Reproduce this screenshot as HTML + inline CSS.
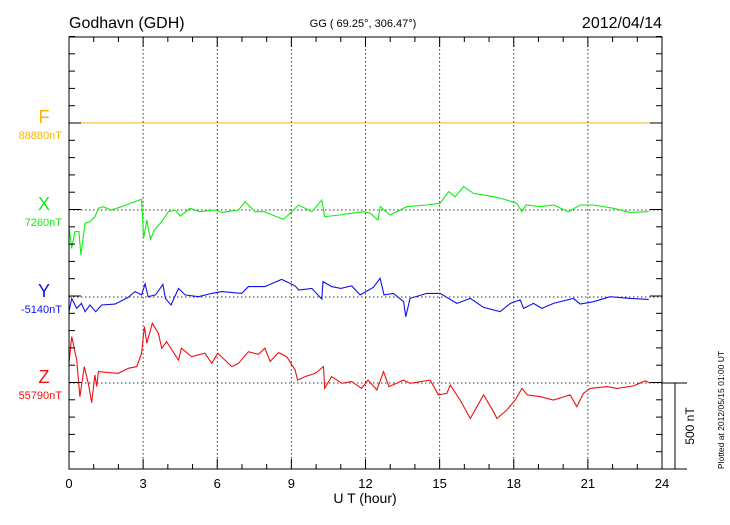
<!DOCTYPE html>
<html><head><meta charset="utf-8">
<style>
body{margin:0;background:#fff;}
svg text{font-family:"Liberation Sans",Arial,sans-serif;}
</style></head>
<body>
<svg id="chart" width="730" height="520" xmlns="http://www.w3.org/2000/svg">
<text x="69" y="28" font-size="16">Godhavn (GDH)</text>
<text x="363" y="27" font-size="11" text-anchor="middle">GG ( 69.25°, 306.47°)</text>
<text x="662" y="28" font-size="16" text-anchor="end">2012/04/14</text>
<text x="365" y="503" font-size="14" text-anchor="middle">U T (hour)</text>
<text transform="translate(694,426) rotate(-90)" font-size="12" text-anchor="middle">500 nT</text>
<text transform="translate(724,410) rotate(-90)" font-size="8.5" text-anchor="middle">Plotted at 2012/05/15 01:00 UT</text>
<g id="grid"></g><g id="series"></g><g id="axes"></g><g id="labels"></g>
</svg>
<script>
const hoursTicks=[0,3,6,9,12,15,18,21,24];
const compNames=['F','X','Y','Z'];
const compBase=['88880nT','7260nT','-5140nT','55790nT'];
const compColors=['#f7b500','#11ee11','#1010ee','#ee1010'];
const fT=[0,23.9];
const fV=[0,0];
const xT=[0,0.11,0.24,0.4,0.48,0.65,0.85,1.05,1.19,1.39,1.7,2.13,2.54,2.94,3.02,3.15,3.3,3.45,3.75,4.02,4.3,4.5,4.9,5.3,5.91,6.2,6.86,7.13,7.53,7.9,8.34,8.68,9.02,9.29,9.83,10.23,10.35,10.96,11.4,11.92,12.19,12.5,12.6,12.99,13.67,14.48,15.02,15.36,15.63,15.97,16.37,17.18,17.72,18.12,18.33,18.5,19.07,19.61,20.21,20.69,21.23,22.04,22.71,23.46];
const xV=[-96,-222,-125,-125,-260,-77,-68,-39,10,19,0,19,42,62,-164,-58,-170,-116,-68,-10,0,-35,10,-10,0,-14,0,48,-10,-10,-35,-54,-10,29,-10,58,-39,-29,-19,-10,-19,-58,19,-29,19,29,39,106,77,135,96,77,58,39,-10,29,19,29,-10,29,29,10,-14,-10];
const yT=[0,0.11,0.31,0.5,0.65,0.85,1.08,1.32,1.86,2.4,2.67,2.94,3.08,3.2,3.5,3.8,3.9,4.13,4.43,4.7,5.24,5.78,6.18,6.99,7.26,7.93,8.61,9.15,9.3,9.83,10.23,10.28,10.63,11.0,11.44,11.78,12.32,12.59,12.75,13.13,13.54,13.63,13.8,14.48,15.02,15.7,16.24,16.78,17.45,17.86,18.26,18.4,18.8,19.14,19.61,20.42,20.69,21.23,21.9,22.71,23.46];
const yV=[-85,-8,-66,-37,-85,-46,-85,-46,-41,-2,31,12,77,2,12,73,-8,-46,50,12,2,21,31,21,60,60,102,64,40,50,-12,89,60,50,64,12,56,108,12,21,-27,-114,-8,21,21,-37,-8,-60,-85,-37,-17,-66,-37,-66,-37,-8,-41,-27,2,-8,-14];
const zT=[0,0.11,0.31,0.44,0.62,0.78,0.92,1.05,1.12,1.19,1.59,2.0,2.4,2.74,2.94,3.05,3.15,3.37,3.62,3.75,3.95,4.43,4.55,4.96,5.5,5.78,6.02,6.59,6.86,7.26,7.66,7.93,8.14,8.48,8.81,9.15,9.25,9.56,9.97,10.3,10.35,10.63,11.04,11.44,11.84,12.1,12.46,12.73,12.95,13.54,13.8,14.62,14.95,15.29,15.43,15.83,16.24,16.78,17.18,17.32,17.72,18.06,18.33,18.55,19.07,19.61,20.28,20.55,20.82,21.09,21.77,22.17,22.85,23.31,23.5];
const zV=[114,268,133,-79,95,-2,-114,46,-21,66,60,56,85,95,172,326,230,345,288,201,239,133,201,152,172,114,172,95,114,181,166,201,124,176,152,75,17,37,56,95,-31,37,-2,8,-31,17,-40,66,-21,17,-2,17,-69,-60,-12,-98,-205,-69,-166,-205,-156,-98,-31,-69,-79,-98,-69,-137,-60,-31,-21,-31,-17,12,2];
const seriesT=[fT,xT,yT,zT], seriesV=[fV,xV,yV,zV];

const L=69,R=662,T=37,B=469;
const baseY=[123,210,297,383];
const pxPerNT=86.5/500;
const xs=h=>L+(R-L)*h/24;
const ys=(i,v)=>baseY[i]-v*pxPerNT;
const NS='http://www.w3.org/2000/svg';
function mk(tag,attrs,parent){const e=document.createElementNS(NS,tag);for(const k in attrs)e.setAttribute(k,attrs[k]);parent.appendChild(e);return e;}
const grid=document.getElementById('grid'),ser=document.getElementById('series'),ax=document.getElementById('axes'),lab=document.getElementById('labels');
// grid
hoursTicks.slice(1,-1).forEach(h=>{
 const g=mk('line',{x1:xs(h),x2:xs(h),y1:T,y2:B,stroke:'#333','stroke-width':1,'stroke-dasharray':'1.5,2.5'},grid);
 
 
});
baseY.forEach(y=>{
 const g=mk('line',{x1:L,x2:R,y1:y,y2:y,stroke:'#333','stroke-width':1,'stroke-dasharray':'1.5,2.5'},grid);
 
 
});
// series
seriesT.forEach((tArr,i)=>{
 const d=tArr.map((t,j)=>(j?'L':'M')+xs(t).toFixed(1)+','+ys(i,seriesV[i][j]).toFixed(1)).join('');
 const p=mk('path',{d:d,fill:'none',stroke:compColors[i],'stroke-width':1.1},ser);
 
 
});
// axes frame
const fr=mk('rect',{x:L,y:T,width:R-L,height:B-T,fill:'none',stroke:'#000','stroke-width':1},ax);


// hour ticks
for(let h=0;h<=24;h++){
 const len=h%3===0?10:5;
 const t1=mk('line',{x1:xs(h),x2:xs(h),y1:B,y2:B-len,stroke:'#000'},ax);
 
 
 const t2=mk('line',{x1:xs(h),x2:xs(h),y1:T,y2:T+len,stroke:'#000'},ax);
 
 
}
hoursTicks.forEach(h=>{
 const t=mk('text',{x:xs(h),y:488,'font-size':13,'text-anchor':'middle'},lab);t.textContent=h;
 
 
});
// y minor ticks
for(let k=0;k<=25;k++){
 const y=B-k*pxPerNT*100; if(y<T-0.5)break;
 const major=baseY.some(b=>Math.abs(b-y)<2);
 const len=major?12:6;
 const a=mk('line',{x1:L,x2:L+len,y1:y,y2:y,stroke:'#000'},ax);
 
 
 const b=mk('line',{x1:R,x2:R-len,y1:y,y2:y,stroke:'#000'},ax);
 
 
}
// scale bar
const s1=mk('line',{x1:R,x2:687,y1:383,y2:383,stroke:'#000'},ax);


const s2=mk('line',{x1:R,x2:687,y1:B,y2:B,stroke:'#000'},ax);


const s3=mk('line',{x1:675,x2:675,y1:383,y2:B,stroke:'#000'},ax);


// component labels
compNames.forEach((n,i)=>{
 const a=mk('text',{x:44,y:baseY[i]-0,'font-size':18,'text-anchor':'middle',fill:compColors[i]},lab);a.textContent=n;
 
 
 const b=mk('text',{x:62,y:baseY[i]+16,'font-size':11,'text-anchor':'end',fill:compColors[i]},lab);b.textContent=compBase[i];
 
 
});
</script>
</body></html>
